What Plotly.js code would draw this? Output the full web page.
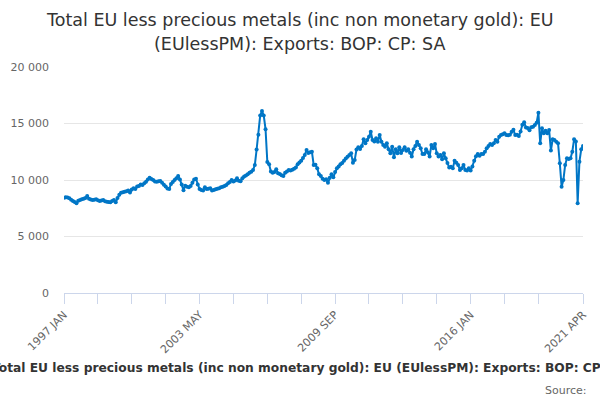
<!DOCTYPE html>
<html>
<head>
<meta charset="utf-8">
<script src="https://cdn.plot.ly/plotly-3.0.1.min.js"></script>
<style>
  html, body { margin: 0; padding: 0; background: #fff; }
  #chart { width: 600px; height: 400px; }
</style>
</head>
<body>
<div id="chart"></div>
<script>
// monthly values, £ million
const v1997 = [8420, 8470, 8450, 8390, 8250, 8140, 8050, 7940, 8170, 8220, 8290, 8330];
const v1998 = [8400, 8580, 8350, 8280, 8230, 8260, 8290, 8200, 8140, 8190, 8230, 8120];
const v1999 = [8080, 8050, 8020, 8150, 8230, 8020, 8400, 8700, 8880, 8920, 8970, 9000];
const v2000 = [9060, 8900, 9150, 9280, 9200, 9420, 9480, 9600, 9550, 9720, 9850, 10050];
const v2001 = [10200, 10080, 10000, 9870, 9850, 9880, 9910, 9750, 9580, 9420, 9250, 9200];
const v2002 = [9650, 9820, 10000, 10150, 10350, 10050, 9600, 9100, 9500, 9400, 9350, 9470];
const v2003 = [9750, 10050, 10100, 9600, 9200, 9120, 9080, 9350, 9200, 9220, 9260, 9080];
const v2004 = [9120, 9180, 9230, 9280, 9350, 9400, 9470, 9560, 9710, 9820, 10000, 9870];
const v2005 = [9950, 10150, 9940, 9900, 10150, 10300, 10400, 10500, 10650, 10740, 10890, 11330];
const v2006 = [12700, 14000, 15700, 16100, 15700, 14500, 11600, 11400, 10750, 10650, 10700, 10950];
const v2007 = [10590, 10530, 10420, 10350, 10650, 10750, 10890, 10850, 10900, 11000, 11100, 11400];
const v2008 = [11550, 11710, 11950, 12210, 12660, 12400, 12450, 12500, 11330, 11350, 11030, 10500];
const v2009 = [10350, 10100, 10000, 10060, 9760, 10200, 10500, 10250, 10700, 11030, 11200, 11400];
const v2010 = [11500, 11710, 11900, 12050, 12210, 12360, 11530, 11770, 12700, 12890, 12750, 13010];
const v2011 = [13600, 13250, 13540, 13830, 14280, 13540, 13400, 13690, 13390, 13980, 13390, 13100];
const v2012 = [12950, 13250, 12720, 12360, 12950, 12010, 12720, 12360, 12890, 12400, 12660, 12890];
const v2013 = [12590, 12720, 12420, 12070, 12720, 13010, 13390, 13100, 12800, 12300, 12300, 12720];
const v2014 = [12450, 12070, 13100, 12810, 13190, 12360, 12070, 12210, 11830, 12360, 11920, 11500];
const v2015 = [11100, 11180, 11030, 11700, 11530, 11330, 10890, 11030, 11330, 10890, 10830, 11030];
const v2016 = [10830, 11200, 11700, 12100, 12300, 12150, 12300, 12300, 12500, 12810, 13010, 13190];
const v2017 = [13100, 13250, 13540, 13390, 13830, 13980, 14050, 14130, 13980, 13950, 14000, 14280];
const v2018 = [14450, 13980, 14000, 13900, 14300, 14900, 15100, 14650, 14600, 14400, 14660, 14720];
const v2019 = [14870, 15070, 15960, 13250, 14580, 14130, 14360, 14130, 14430, 12600, 13600, 13540];
const v2020 = [13390, 13250, 11480, 9410, 10000, 11330, 11920, 11850, 11920, 12500, 13600, 13400];
const v2021 = [7940, 11620, 12720, 13010];

const firstYear = 1997;
const monthNames = ["JAN", "FEB", "MAR", "APR", "MAY", "JUN", "JUL", "AUG", "SEP", "OCT", "NOV", "DEC"];
const yTicks = [0, 5000, 10000, 15000, 20000];
// tick every 19 months, last tick on the final month
const tickIdx = [0, 19, 38, 57, 76, 95, 114, 133, 152, 171, 190, 209, 228, 247, 266, 291];
const labelIdx = [0, 76, 152, 228, 291];

const values = [].concat(v1997, v1998, v1999, v2000, v2001, v2002, v2003, v2004,
  v2005, v2006, v2007, v2008, v2009, v2010, v2011, v2012, v2013, v2014, v2015,
  v2016, v2017, v2018, v2019, v2020, v2021);
const periods = values.map((_, i) => `${firstYear + Math.floor(i / 12)} ${monthNames[i % 12]}`);

const title1 = "Total EU less precious metals (inc non monetary gold): EU";
const title2 = "(EUlessPM): Exports: BOP: CP: SA";
const caption = "Total EU less precious metals (inc non monetary gold): EU (EUlessPM): Exports: BOP: CP: SA";

const font = "DejaVu Sans, sans-serif";
const blue = "rgb(0,118,198)";

const trace = {
  type: "scatter",
  mode: "lines+markers",
  x: periods,
  y: values,
  line: { color: blue, width: 2 },
  marker: { color: blue, size: 4 },
  hoverinfo: "x+y",
};

function note(text, x, y, size, color, xanchor) {
  return {
    text, x, y, xref: "paper", yref: "paper", showarrow: false,
    xanchor: xanchor || "center", yanchor: "middle",
    font: { size, color, family: font },
  };
}

const layout = {
  width: 600,
  height: 400,
  margin: { l: 64, r: 17, t: 67, b: 107 },
  paper_bgcolor: "#fff",
  plot_bgcolor: "#fff",
  font: { family: font, color: "#666", size: 11 },
  separators: ". ",
  showlegend: false,
  xaxis: {
    type: "category",
    range: [0, values.length - 1],
    tickmode: "array",
    tickvals: tickIdx.map((i) => periods[i]),
    ticktext: tickIdx.map((i) => (labelIdx.includes(i) ? periods[i] : "")),
    tickangle: -45,
    ticks: "outside",
    ticklen: 10,
    tickcolor: "#ccd6eb",
    showline: true,
    linecolor: "#ccd6eb",
    showgrid: false,
    zeroline: false,
    tickfont: { size: 11, color: "#666" },
  },
  yaxis: {
    range: [0, 20000],
    tickmode: "array",
    tickvals: yTicks,
    tickformat: ",",
    gridcolor: "#e6e6e6",
    showline: false,
    zeroline: false,
    ticks: "",
    ticklabelstandoff: 14,
    tickfont: { size: 11, color: "#666" },
  },
  annotations: [
    note(title1, 0.4547, 1.206, 17.5, "#333"),
    note(title2, 0.4547, 1.102, 17.5, "#333"),
    note("<b>" + caption + "</b>", 0.474, -0.334, 12.25, "#333"),
    note("Source:", 1.0116, -0.43, 11, "#666", "right"),
  ],
};

Plotly.newPlot("chart", [trace], layout, { displayModeBar: false, staticPlot: true });
</script>
</body>
</html>
